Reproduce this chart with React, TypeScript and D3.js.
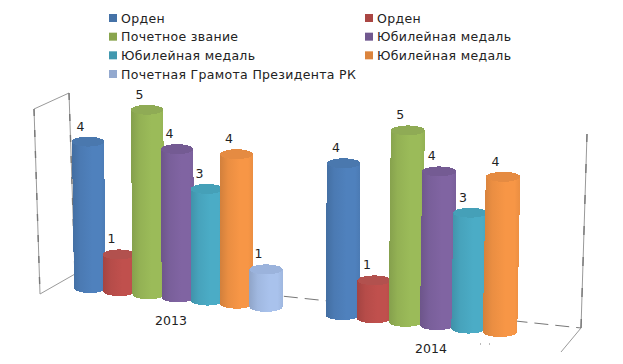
import React from "react";
import * as d3 from "d3";

const categories = ["2013", "2014"];
const seriesNames = ["Орден", "Орден", "Почетное звание", "Юбилейная медаль", "Юбилейная медаль", "Юбилейная медаль", "Почетная Грамота Президента РК"];
const values2013 = [4, 1, 5, 4, 3, 4, 1];
const values2014 = [4, 1, 5, 4, 3, 4];
const legendColors = ["#4572A7", "#AA4643", "#89A54E", "#71588F", "#4198AF", "#DB843D", "#93A9CF"];
const bodyColors = ["#4F81BD", "#C0504D", "#9BBB59", "#8064A2", "#4BACC6", "#F79646", "#A9C2EC"];
const capColors = ["#4A78AE", "#B2514E", "#8FAB55", "#745B93", "#45A0B8", "#E58B42", "#9BB3DC"];

const W = 623, H = 364;
const groups = [
  { name: categories[0], values: values2013, x: d3.scaleLinear().domain([0, 6]).range([90, 266]), labelX: 171, labelY: 325 },
  { name: categories[1], values: values2014, x: d3.scaleLinear().domain([0, 5]).range([342.5, 500]), labelX: 431, labelY: 353 },
];
const baseY = d3.scaleLinear().domain([90, 500]).range([288, 332]);
const unitH = d3.scaleLinear().domain([90, 500]).range([36.6, 38.8]);
const barW = d3.scaleLinear().domain([90, 500]).range([32, 34.5]);
const lean = d3.scaleLinear().domain([90, 500]).range([-2, 3]);
const RY = 5;

function cyl(cx: number, v: number) {
  const w = barW(cx), by = baseY(cx), ty = by - unitH(cx) * v;
  const tx = cx + lean(cx) * (v / 4);
  const rx = w / 2;
  return {
    tx, ty, rx,
    body: `M${tx - rx},${ty}L${cx - rx},${by}A${rx},${RY} 0 0 0 ${cx + rx},${by}L${tx + rx},${ty}Z`,
  };
}

const legendCols = d3.scaleOrdinal<number, number>().domain([0, 1]).range([113, 369]);
const legendRow = d3.scaleLinear().domain([0, 3]).range([18, 74]);

export default function App() {
  const wallColor = "#9a9a9a";
  return (
    <svg width={W} height={H} style={{ position: "absolute", left: 0, top: 0, background: "#fff" }} fontFamily="DejaVu Sans">
      <defs>
        {bodyColors.map((c, i) => {
          const dark = d3.color(c)!.darker(0.45).formatHex();
          const mid = d3.color(c)!.darker(0.15).formatHex();
          return (
            <linearGradient key={i} id={`g${i}`} x1="0" x2="1" y1="0" y2="0">
              <stop offset="0" stopColor={dark} />
              <stop offset="0.25" stopColor={mid} />
              <stop offset="0.6" stopColor={c} />
              <stop offset="0.85" stopColor={c} />
              <stop offset="1" stopColor={mid} />
            </linearGradient>
          );
        })}
      </defs>

      {seriesNames.map((s, i) => {
        const col = i === 6 ? 0 : i % 2;
        const row = Math.floor(i / 2);
        const x = legendCols(col), y = legendRow(row);
        return (
          <g key={i}>
            <rect x={x - 4} y={y - 4} width={8} height={8} fill={legendColors[i]} />
            <text x={x + 8} y={y + 4.5} fontSize={12.5} letterSpacing={0.32} fill="#222">{s}</text>
          </g>
        );
      })}

      <g fill="none" stroke={wallColor} strokeWidth={1}>
        <path d="M34,109L69,93L75,274L40,294Z" />
        <path d="M34,109L40,294M69,93L75,274" stroke="#777" strokeWidth={1.4} strokeDasharray="7 14" />
        <path d="M75,274L581,328" stroke="#777" strokeDasharray="14 7" />
        <path d="M581,328L587,134" />
        <path d="M581,328L587,134" stroke="#777" strokeWidth={1.4} strokeDasharray="9 22" />
        <path d="M581,328L561,352" />
        <path d="M480,344h1M489,344h1" stroke="#777" />
      </g>

      {groups.map((g) => (
        <g key={g.name}>
          {g.values.map((v, i) => {
            const cx = g.x(i);
            const c = cyl(cx, v);
            return (
              <g key={i} shapeRendering="crispEdges">
                <path d={c.body} fill={`url(#g${i})`} />
                <ellipse cx={c.tx} cy={c.ty} rx={c.rx} ry={RY} fill={capColors[i]} />
              </g>
            );
          })}
          {g.values.map((v, i) => {
            const cx = g.x(i);
            const c = cyl(cx, v);
            return (
              <text key={i} x={c.tx - 7.5} y={c.ty - 11} fontSize={12.5} textAnchor="middle" fill="#222">{v}</text>
            );
          })}
          <text x={g.labelX} y={g.labelY} fontSize={12.5} textAnchor="middle" fill="#222">{g.name}</text>
        </g>
      ))}
    </svg>
  );
}
